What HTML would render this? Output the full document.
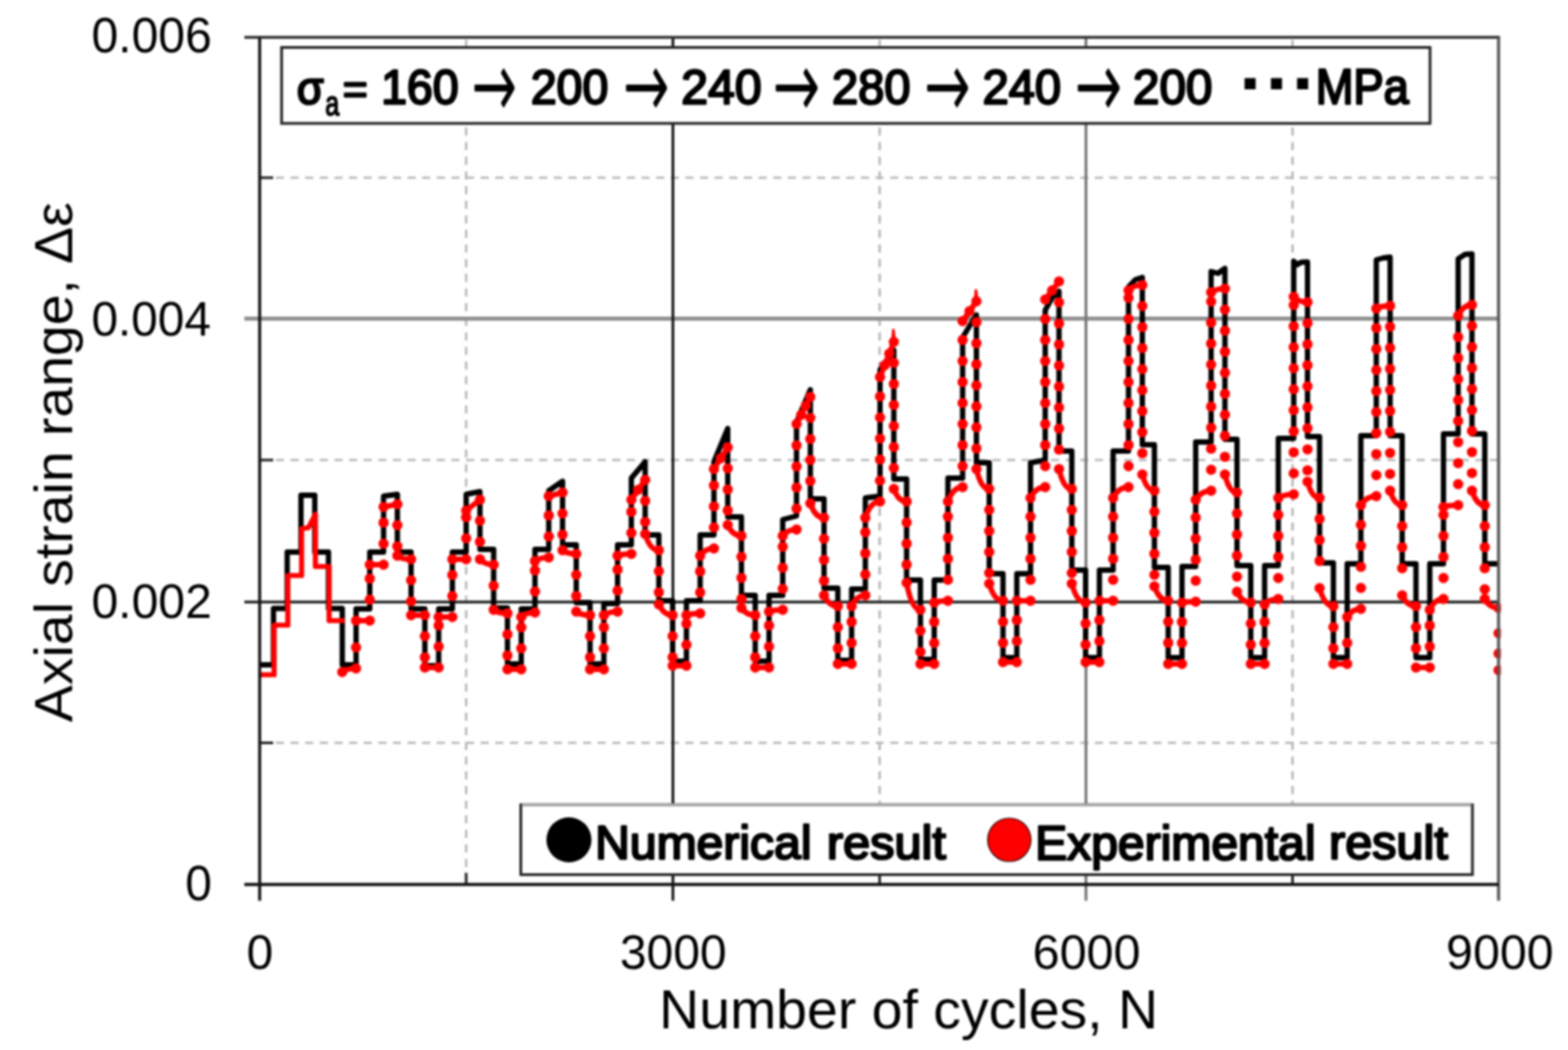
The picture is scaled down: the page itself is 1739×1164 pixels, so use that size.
<!DOCTYPE html>
<html lang="en"><head><meta charset="utf-8"><title>Axial strain range vs number of cycles</title>
<style>html,body{margin:0;padding:0;background:#fff}body{width:1739px;height:1164px;overflow:hidden}svg{display:block}text{white-space:pre}</style>
</head><body>
<svg width="1739" height="1164" viewBox="0 0 1739 1164">
<defs><filter id="soft" filterUnits="userSpaceOnUse" x="-10" y="-10" width="1759" height="1184" color-interpolation-filters="sRGB"><feGaussianBlur stdDeviation="0.95"/></filter></defs>
<rect x="-20" y="-20" width="1779" height="1204" fill="#fff"/>
<g filter="url(#soft)">
<rect x="-20" y="-20" width="1779" height="1204" fill="#fff"/>
<g stroke="#b8b8b8" stroke-width="2.7" stroke-dasharray="9 7.22" fill="none">
<line x1="306.0" y1="197" x2="1662.0" y2="197"/>
<line x1="306.0" y1="510" x2="1662.0" y2="510"/>
<line x1="306.0" y1="823.5" x2="1662.0" y2="823.5"/>
<line x1="517" y1="44.0" x2="517" y2="980.5"/>
<line x1="975.6" y1="44.0" x2="975.6" y2="980.5"/>
<line x1="1433.5" y1="44.0" x2="1433.5" y2="980.5"/>
</g>
<line x1="271.0" y1="353.3" x2="1662.0" y2="353.3" stroke="#8e8e8e" stroke-width="4.4"/>
<line x1="271.0" y1="667.4" x2="1662.0" y2="667.4" stroke="#2a2a2a" stroke-width="3.1"/>
<line x1="746.3" y1="41.4" x2="746.3" y2="998.5" stroke="#111" stroke-width="3"/>
<line x1="1204.4" y1="41.4" x2="1204.4" y2="998.5" stroke="#777" stroke-width="3.2"/>
<g stroke="#222" stroke-width="2.9">
<line x1="288.0" y1="197" x2="303.0" y2="197"/>
<line x1="288.0" y1="510" x2="303.0" y2="510"/>
<line x1="288.0" y1="823.5" x2="303.0" y2="823.5"/>
<line x1="517" y1="967.5" x2="517" y2="980.5"/>
<line x1="975.6" y1="967.5" x2="975.6" y2="980.5"/>
<line x1="1433.5" y1="967.5" x2="1433.5" y2="980.5"/>
</g>
<clipPath id="pc"><rect x="288.0" y="41.4" width="1376.5" height="939.1"/></clipPath>
<g clip-path="url(#pc)" fill="none">
<path d="M288.0,737.0 L303.3,737.0 L303.3,674.5 L318.5,674.5 L318.5,612.0 L333.8,612.0 L333.8,549.0 L349.1,549.0 L349.1,612.0 L364.3,612.0 L364.3,674.5 L379.6,674.5 L379.6,737.0 L394.9,737.0 L394.9,675.0 L410.1,675.0 L410.1,612.0 L425.4,612.0 L425.4,550.0 L440.7,548.0 L440.7,612.0 L455.9,612.0 L455.9,675.0 L471.2,675.0 L471.2,738.0 L486.5,738.0 L486.5,675.0 L501.7,675.0 L501.7,612.0 L517.0,612.0 L517.0,548.0 L532.3,545.0 L532.3,609.0 L547.5,609.0 L547.5,674.0 L562.8,674.0 L562.8,736.0 L578.1,736.0 L578.1,675.0 L593.3,675.0 L593.3,609.0 L608.6,609.0 L608.6,544.0 L623.9,533.5 L623.9,604.0 L639.1,604.0 L639.1,668.0 L654.4,668.0 L654.4,736.0 L669.7,736.0 L669.7,669.0 L684.9,669.0 L684.9,604.0 L700.2,604.0 L700.2,530.0 L715.5,512.0 L715.5,593.0 L730.7,593.0 L730.7,666.0 L746.0,666.0 L746.0,733.0 L761.3,733.0 L761.3,666.0 L776.5,666.0 L776.5,593.0 L791.8,593.0 L791.8,512.0 L807.1,475.0 L807.1,573.0 L822.3,573.0 L822.3,660.0 L837.6,660.0 L837.6,733.0 L852.9,733.0 L852.9,660.0 L868.1,660.0 L868.1,576.0 L883.4,572.0 L883.4,468.0 L898.7,432.0 L898.7,553.0 L913.9,553.0 L913.9,652.0 L929.2,652.0 L929.2,732.0 L944.5,732.0 L944.5,653.0 L959.7,653.0 L959.7,552.0 L976.0,550.0 L976.0,410.0 L991.3,388.0 L991.3,531.0 L1005.5,531.0 L1005.5,643.0 L1020.8,643.0 L1020.8,731.0 L1036.1,731.0 L1036.1,643.0 L1051.3,643.0 L1051.3,530.0 L1067.6,530.0 L1067.6,374.0 L1082.9,349.0 L1082.9,513.0 L1097.1,513.0 L1097.1,636.0 L1112.4,636.0 L1112.4,729.0 L1127.7,729.0 L1127.7,636.0 L1142.9,636.0 L1142.9,513.0 L1159.2,510.0 L1159.2,344.0 L1166.8,330.0 L1174.5,323.0 L1174.5,500.0 L1188.7,500.0 L1188.7,632.0 L1204.0,632.0 L1204.0,729.0 L1219.3,729.0 L1219.3,632.0 L1234.5,632.0 L1234.5,500.0 L1251.6,500.0 L1251.6,318.0 L1259.2,310.0 L1266.9,307.5 L1266.9,493.0 L1280.3,493.0 L1280.3,629.0 L1295.6,629.0 L1295.6,729.0 L1310.9,729.0 L1310.9,628.0 L1326.1,628.0 L1326.1,490.0 L1343.2,490.0 L1343.2,301.0 L1350.8,303.0 L1358.5,297.5 L1358.5,487.0 L1371.9,487.0 L1371.9,627.0 L1387.2,627.0 L1387.2,729.0 L1402.5,729.0 L1402.5,627.0 L1417.7,627.0 L1417.7,486.0 L1434.8,486.0 L1434.8,289.5 L1438.6,293.5 L1442.4,291.0 L1446.2,290.5 L1450.1,290.5 L1450.1,484.0 L1463.5,484.0 L1463.5,624.0 L1478.8,624.0 L1478.8,729.0 L1494.1,729.0 L1494.1,625.0 L1509.3,625.0 L1509.3,483.0 L1526.4,483.0 L1526.4,288.0 L1534.0,286.0 L1541.7,285.0 L1541.7,483.0 L1555.1,483.0 L1555.1,625.0 L1570.4,625.0 L1570.4,729.0 L1585.7,729.0 L1585.7,625.0 L1600.9,625.0 L1600.9,481.0 L1617.2,481.0 L1617.2,287.0 L1624.8,282.0 L1632.5,281.5 L1632.5,481.0 L1646.7,481.0 L1646.7,625.0 L1662.0,625.0" stroke="#000" stroke-width="5.9" stroke-linejoin="round"/>
<path d="M288.0,748.0 L304.0,748.0 L304.0,693.0 L319.2,693.0 L319.2,638.0 L334.5,638.0 L334.5,586.0 L342.1,585.0 L349.8,570.0 L349.8,628.0 L365.0,628.0 L365.0,688.0 L382.3,688.0" stroke="#f00" stroke-width="5.7" stroke-linejoin="round"/>
<path d="M989.8,379.0 l1,-13 l1.5,13 M1081.4,334.0 l1,-12 l1.5,12" stroke="#f00" stroke-width="3" stroke-linejoin="round"/>
<path d="M379.6,745.0 Q384.9,741.0 394.9,741.0 M394.9,688.0 Q400.2,688.0 410.1,688.0 M410.1,626.0 Q415.5,626.0 425.4,626.0 M425.4,562.0 L440.7,559.0 M440.7,616.0 Q446.0,620.0 455.9,620.0 M455.9,682.0 Q461.3,682.0 471.2,682.0 M471.2,740.0 Q476.5,740.0 486.5,740.0 M486.5,684.0 Q491.8,684.0 501.7,684.0 M501.7,620.0 Q507.1,620.0 517.0,620.0 M517.0,566.0 L532.3,554.0 M532.3,620.0 Q537.6,626.0 547.5,626.0 M547.5,676.0 Q552.9,680.0 562.8,680.0 M562.8,742.0 Q568.1,742.0 578.1,742.0 M578.1,684.0 Q583.4,679.0 593.3,679.0 M593.3,622.0 Q598.7,618.0 608.6,618.0 M608.6,550.0 L623.9,546.0 M623.9,610.0 Q629.2,614.0 639.1,614.0 M639.1,678.0 Q644.5,682.0 654.4,682.0 M654.4,742.0 Q659.7,742.0 669.7,742.0 M669.7,682.0 Q675.0,678.0 684.9,678.0 M684.9,616.0 Q690.3,614.0 700.2,614.0 M700.2,554.0 L715.5,532.0 M715.5,592.0 Q720.8,610.0 730.7,610.0 M730.7,670.0 Q736.1,682.0 746.0,682.0 M746.0,738.0 Q751.3,738.0 761.3,738.0 M761.3,682.0 Q766.6,680.0 776.5,680.0 M776.5,616.0 Q781.9,608.0 791.8,608.0 M791.8,520.0 L807.1,496.0 M807.1,582.0 Q812.4,594.0 822.3,594.0 M822.3,674.0 Q827.7,682.0 837.6,682.0 M837.6,740.0 Q842.9,740.0 852.9,740.0 M852.9,678.0 Q858.2,676.0 868.1,676.0 M868.1,594.0 Q873.5,587.0 883.4,587.0 M883.4,470.0 L898.7,440.0 M898.7,558.0 Q904.0,574.0 913.9,574.0 M913.9,660.0 Q919.3,672.0 929.2,672.0 M929.2,736.0 Q934.5,736.0 944.5,736.0 M944.5,672.0 Q949.8,660.0 959.7,660.0 M959.7,574.0 Q965.4,556.0 976.0,556.0 M976.0,418.0 L991.3,379.0 M991.3,542.0 Q996.3,556.0 1005.5,556.0 M1005.5,646.0 Q1010.9,676.0 1020.8,676.0 M1020.8,736.0 Q1026.1,736.0 1036.1,736.0 M1036.1,668.0 Q1041.4,666.0 1051.3,666.0 M1051.3,556.0 Q1057.0,540.0 1067.6,540.0 M1067.6,356.0 L1082.9,334.0 M1082.9,520.0 Q1087.9,542.0 1097.1,542.0 M1097.1,647.0 Q1102.5,666.0 1112.4,666.0 M1112.4,734.0 Q1117.7,734.0 1127.7,734.0 M1127.7,666.0 Q1133.0,666.0 1142.9,666.0 M1142.9,552.0 Q1148.6,540.0 1159.2,540.0 M1159.2,332.0 L1174.5,312.0 M1174.5,520.0 Q1179.5,542.0 1188.7,542.0 M1188.7,647.0 Q1194.1,668.0 1204.0,668.0 M1204.0,734.0 Q1209.3,734.0 1219.3,734.0 M1219.3,666.0 Q1224.6,666.0 1234.5,666.0 M1234.5,552.0 Q1240.5,540.0 1251.6,540.0 M1251.6,322.0 Q1256.9,316.0 1266.9,316.0 M1266.9,526.0 Q1271.6,544.0 1280.3,544.0 M1280.3,650.0 Q1285.7,666.0 1295.6,666.0 M1295.6,736.0 Q1300.9,736.0 1310.9,736.0 M1310.9,668.0 Q1316.2,667.0 1326.1,667.0 M1326.1,554.0 Q1332.1,544.0 1343.2,544.0 M1343.2,324.0 Q1348.5,320.0 1358.5,320.0 M1358.5,526.0 Q1363.2,546.0 1371.9,546.0 M1371.9,656.0 Q1377.3,668.0 1387.2,668.0 M1387.2,736.0 Q1392.5,736.0 1402.5,736.0 M1402.5,670.0 Q1407.8,664.0 1417.7,664.0 M1417.7,552.0 Q1423.7,548.0 1434.8,548.0 M1434.8,329.0 Q1440.1,335.0 1450.1,335.0 M1450.1,534.0 Q1454.8,552.0 1463.5,552.0 M1463.5,652.0 Q1468.9,672.0 1478.8,672.0 M1478.8,736.0 Q1484.1,736.0 1494.1,736.0 M1494.1,684.0 Q1499.4,675.0 1509.3,675.0 M1509.3,560.0 Q1515.3,550.0 1526.4,550.0 M1526.4,342.0 Q1531.7,339.0 1541.7,339.0 M1541.7,544.0 Q1546.4,560.0 1555.1,560.0 M1555.1,660.0 Q1560.5,672.0 1570.4,672.0 M1570.4,740.0 Q1575.7,740.0 1585.7,740.0 M1585.7,676.0 Q1591.0,664.0 1600.9,664.0 M1600.9,562.0 Q1606.6,560.0 1617.2,560.0 M1617.2,350.0 Q1622.5,338.0 1632.5,338.0 M1632.5,544.0 Q1637.5,560.0 1646.7,560.0 M1646.7,664.0 Q1652.1,674.0 1662.0,674.0" stroke="#f00" stroke-width="6" stroke-linecap="round"/>
<path d="M379.6,745.0h0 M394.9,741.0h0 M394.9,717.7h0 M394.9,688.0h0 M410.1,688.0h0 M410.1,664.7h0 M410.1,641.4h0 M410.1,626.0h0 M425.4,626.0h0 M425.4,602.7h0 M425.4,579.4h0 M425.4,562.0h0 M440.7,559.0h0 M440.7,582.3h0 M440.7,605.6h0 M440.7,616.0h0 M455.9,620.0h0 M455.9,643.3h0 M455.9,666.6h0 M455.9,682.0h0 M471.2,682.0h0 M471.2,705.3h0 M471.2,728.6h0 M471.2,740.0h0 M486.5,740.0h0 M486.5,716.7h0 M486.5,693.4h0 M486.5,684.0h0 M501.7,684.0h0 M501.7,660.7h0 M501.7,637.4h0 M501.7,620.0h0 M517.0,620.0h0 M517.0,596.7h0 M517.0,573.4h0 M517.0,566.0h0 M532.3,554.0h0 M532.3,577.3h0 M532.3,600.6h0 M532.3,620.0h0 M547.5,626.0h0 M547.5,649.3h0 M547.5,676.0h0 M562.8,680.0h0 M562.8,703.3h0 M562.8,726.6h0 M562.8,742.0h0 M578.1,742.0h0 M578.1,718.7h0 M578.1,695.4h0 M578.1,684.0h0 M593.3,679.0h0 M593.3,655.7h0 M593.3,632.4h0 M593.3,622.0h0 M608.6,618.0h0 M608.6,594.7h0 M608.6,571.4h0 M608.6,550.0h0 M623.9,546.0h0 M623.9,569.3h0 M623.9,592.6h0 M623.9,610.0h0 M639.1,614.0h0 M639.1,637.3h0 M639.1,660.6h0 M639.1,678.0h0 M654.4,682.0h0 M654.4,705.3h0 M654.4,728.6h0 M654.4,742.0h0 M669.7,742.0h0 M669.7,718.7h0 M669.7,695.4h0 M669.7,682.0h0 M684.9,678.0h0 M684.9,654.7h0 M684.9,631.4h0 M684.9,616.0h0 M700.2,614.0h0 M700.2,590.7h0 M700.2,567.4h0 M700.2,554.0h0 M715.5,532.0h0 M707.8,543.0h0 M715.5,555.3h0 M715.5,578.6h0 M715.5,592.0h0 M730.7,610.0h0 M730.7,633.3h0 M730.7,656.6h0 M730.7,670.0h0 M746.0,682.0h0 M746.0,705.3h0 M746.0,728.6h0 M746.0,738.0h0 M761.3,738.0h0 M761.3,714.7h0 M761.3,691.4h0 M761.3,682.0h0 M776.5,680.0h0 M776.5,656.7h0 M776.5,633.4h0 M776.5,616.0h0 M791.8,608.0h0 M791.8,584.7h0 M791.8,561.4h0 M791.8,538.1h0 M791.8,520.0h0 M807.1,496.0h0 M799.4,508.0h0 M807.1,519.3h0 M807.1,542.6h0 M807.1,565.9h0 M807.1,582.0h0 M822.3,594.0h0 M822.3,617.3h0 M822.3,640.6h0 M822.3,663.9h0 M822.3,674.0h0 M837.6,682.0h0 M837.6,705.3h0 M837.6,728.6h0 M837.6,740.0h0 M852.9,740.0h0 M852.9,716.7h0 M852.9,693.4h0 M852.9,678.0h0 M868.1,676.0h0 M868.1,652.7h0 M868.1,629.4h0 M868.1,606.1h0 M868.1,594.0h0 M883.4,587.0h0 M883.4,563.7h0 M883.4,540.4h0 M883.4,517.1h0 M883.4,493.8h0 M883.4,470.0h0 M898.7,440.0h0 M888.5,460.0h0 M893.6,450.0h0 M898.7,463.3h0 M898.7,486.6h0 M898.7,509.9h0 M898.7,533.2h0 M898.7,558.0h0 M913.9,574.0h0 M913.9,597.3h0 M913.9,620.6h0 M913.9,643.9h0 M913.9,660.0h0 M929.2,672.0h0 M929.2,695.3h0 M929.2,718.6h0 M929.2,736.0h0 M944.5,736.0h0 M944.5,712.7h0 M944.5,689.4h0 M944.5,672.0h0 M959.7,660.0h0 M959.7,636.7h0 M959.7,613.4h0 M959.7,590.1h0 M959.7,574.0h0 M976.0,556.0h0 M976.0,532.7h0 M976.0,509.4h0 M976.0,486.1h0 M976.0,462.8h0 M976.0,439.5h0 M976.0,418.0h0 M991.3,379.0h0 M981.1,405.0h0 M986.2,392.0h0 M991.3,402.3h0 M991.3,425.6h0 M991.3,448.9h0 M991.3,472.2h0 M991.3,495.5h0 M991.3,518.8h0 M991.3,542.0h0 M1005.5,556.0h0 M1005.5,579.3h0 M1005.5,602.6h0 M1005.5,625.9h0 M1005.5,646.0h0 M1020.8,676.0h0 M1020.8,699.3h0 M1020.8,722.6h0 M1020.8,736.0h0 M1036.1,736.0h0 M1036.1,712.7h0 M1036.1,689.4h0 M1036.1,668.0h0 M1051.3,666.0h0 M1051.3,642.7h0 M1051.3,619.4h0 M1051.3,596.1h0 M1051.3,572.8h0 M1051.3,556.0h0 M1067.6,540.0h0 M1067.6,516.7h0 M1067.6,493.4h0 M1067.6,470.1h0 M1067.6,446.8h0 M1067.6,423.5h0 M1067.6,400.2h0 M1067.6,376.9h0 M1067.6,356.0h0 M1082.9,334.0h0 M1075.2,345.0h0 M1082.9,357.3h0 M1082.9,380.6h0 M1082.9,403.9h0 M1082.9,427.2h0 M1082.9,450.5h0 M1082.9,473.8h0 M1082.9,497.1h0 M1082.9,520.0h0 M1097.1,542.0h0 M1097.1,565.3h0 M1097.1,588.6h0 M1097.1,611.9h0 M1097.1,635.2h0 M1097.1,647.0h0 M1112.4,666.0h0 M1112.4,689.3h0 M1112.4,712.6h0 M1112.4,734.0h0 M1127.7,734.0h0 M1127.7,710.7h0 M1127.7,687.4h0 M1127.7,666.0h0 M1142.9,666.0h0 M1142.9,642.7h0 M1142.9,619.4h0 M1142.9,596.1h0 M1142.9,572.8h0 M1142.9,552.0h0 M1159.2,540.0h0 M1159.2,516.7h0 M1159.2,493.4h0 M1159.2,470.1h0 M1159.2,446.8h0 M1159.2,423.5h0 M1159.2,400.2h0 M1159.2,376.9h0 M1159.2,353.6h0 M1159.2,332.0h0 M1174.5,312.0h0 M1166.8,322.0h0 M1174.5,335.3h0 M1174.5,358.6h0 M1174.5,381.9h0 M1174.5,405.2h0 M1174.5,428.5h0 M1174.5,451.8h0 M1174.5,475.1h0 M1174.5,498.4h0 M1174.5,520.0h0 M1188.7,542.0h0 M1188.7,565.3h0 M1188.7,588.6h0 M1188.7,611.9h0 M1188.7,635.2h0 M1188.7,647.0h0 M1204.0,668.0h0 M1204.0,691.3h0 M1204.0,714.6h0 M1204.0,734.0h0 M1219.3,734.0h0 M1219.3,710.7h0 M1219.3,687.4h0 M1219.3,666.0h0 M1234.5,666.0h0 M1234.5,642.7h0 M1234.5,619.4h0 M1234.5,596.1h0 M1234.5,572.8h0 M1234.5,552.0h0 M1251.6,540.0h0 M1251.6,516.7h0 M1251.6,493.4h0 M1251.6,470.1h0 M1251.6,446.8h0 M1251.6,423.5h0 M1251.6,400.2h0 M1251.6,376.9h0 M1251.6,353.6h0 M1251.6,330.3h0 M1251.6,322.0h0 M1266.9,316.0h0 M1266.9,339.3h0 M1266.9,362.6h0 M1266.9,385.9h0 M1266.9,409.2h0 M1266.9,432.5h0 M1266.9,455.8h0 M1266.9,479.1h0 M1266.9,502.4h0 M1266.9,526.0h0 M1280.3,544.0h0 M1280.3,567.3h0 M1280.3,590.6h0 M1280.3,613.9h0 M1280.3,637.2h0 M1280.3,650.0h0 M1295.6,666.0h0 M1295.6,689.3h0 M1295.6,712.6h0 M1295.6,736.0h0 M1310.9,736.0h0 M1310.9,712.7h0 M1310.9,689.4h0 M1310.9,668.0h0 M1326.1,667.0h0 M1326.1,643.7h0 M1326.1,620.4h0 M1326.1,597.1h0 M1326.1,573.8h0 M1326.1,554.0h0 M1343.2,544.0h0 M1343.2,520.7h0 M1343.2,497.4h0 M1343.2,474.1h0 M1343.2,450.8h0 M1343.2,427.5h0 M1343.2,404.2h0 M1343.2,380.9h0 M1343.2,357.6h0 M1343.2,334.3h0 M1343.2,324.0h0 M1358.5,320.0h0 M1358.5,343.3h0 M1358.5,366.6h0 M1358.5,389.9h0 M1358.5,413.2h0 M1358.5,436.5h0 M1358.5,459.8h0 M1358.5,483.1h0 M1358.5,506.4h0 M1358.5,526.0h0 M1371.9,546.0h0 M1371.9,569.3h0 M1371.9,592.6h0 M1371.9,615.9h0 M1371.9,639.2h0 M1371.9,656.0h0 M1387.2,668.0h0 M1387.2,691.3h0 M1387.2,714.6h0 M1387.2,736.0h0 M1402.5,736.0h0 M1402.5,712.7h0 M1402.5,689.4h0 M1402.5,670.0h0 M1417.7,664.0h0 M1417.7,640.7h0 M1417.7,617.4h0 M1417.7,594.1h0 M1417.7,570.8h0 M1417.7,552.0h0 M1434.8,548.0h0 M1434.8,524.7h0 M1434.8,501.4h0 M1434.8,478.1h0 M1434.8,454.8h0 M1434.8,431.5h0 M1434.8,408.2h0 M1434.8,384.9h0 M1434.8,361.6h0 M1434.8,338.3h0 M1434.8,329.0h0 M1450.1,335.0h0 M1450.1,358.3h0 M1450.1,381.6h0 M1450.1,404.9h0 M1450.1,428.2h0 M1450.1,451.5h0 M1450.1,474.8h0 M1450.1,498.1h0 M1450.1,521.4h0 M1450.1,534.0h0 M1463.5,552.0h0 M1463.5,575.3h0 M1463.5,598.6h0 M1463.5,621.9h0 M1463.5,652.0h0 M1478.8,672.0h0 M1478.8,695.3h0 M1478.8,718.6h0 M1478.8,736.0h0 M1494.1,736.0h0 M1494.1,712.7h0 M1494.1,684.0h0 M1509.3,675.0h0 M1509.3,651.7h0 M1509.3,628.4h0 M1509.3,605.1h0 M1509.3,581.8h0 M1509.3,560.0h0 M1526.4,550.0h0 M1526.4,526.7h0 M1526.4,503.4h0 M1526.4,480.1h0 M1526.4,456.8h0 M1526.4,433.5h0 M1526.4,410.2h0 M1526.4,386.9h0 M1526.4,363.6h0 M1526.4,342.0h0 M1541.7,339.0h0 M1541.7,362.3h0 M1541.7,385.6h0 M1541.7,408.9h0 M1541.7,432.2h0 M1541.7,455.5h0 M1541.7,478.8h0 M1541.7,502.1h0 M1541.7,525.4h0 M1541.7,544.0h0 M1555.1,560.0h0 M1555.1,583.3h0 M1555.1,606.6h0 M1555.1,629.9h0 M1555.1,660.0h0 M1570.4,672.0h0 M1570.4,695.3h0 M1570.4,718.6h0 M1570.4,740.0h0 M1585.7,740.0h0 M1585.7,716.7h0 M1585.7,693.4h0 M1585.7,676.0h0 M1600.9,664.0h0 M1600.9,640.7h0 M1600.9,617.4h0 M1600.9,594.1h0 M1600.9,570.8h0 M1600.9,562.0h0 M1617.2,560.0h0 M1617.2,536.7h0 M1617.2,513.4h0 M1617.2,490.1h0 M1617.2,466.8h0 M1617.2,443.5h0 M1617.2,420.2h0 M1617.2,396.9h0 M1617.2,373.6h0 M1617.2,350.0h0 M1632.5,338.0h0 M1632.5,361.3h0 M1632.5,384.6h0 M1632.5,407.9h0 M1632.5,431.2h0 M1632.5,454.5h0 M1632.5,477.8h0 M1632.5,501.1h0 M1632.5,524.4h0 M1632.5,544.0h0 M1646.7,560.0h0 M1646.7,583.3h0 M1646.7,606.6h0 M1646.7,629.9h0 M1646.7,653.2h0 M1646.7,664.0h0 M1662.0,674.0h0 M1662.0,702.0h0 M1662.0,724.5h0 M1662.0,743.0h0" stroke="#f00" stroke-width="11.4" stroke-linecap="round"/>
</g>
<line x1="271.0" y1="41.4" x2="1663.5" y2="41.4" stroke="#333" stroke-width="3.2"/>
<line x1="1662.0" y1="41.4" x2="1662.0" y2="998.5" stroke="#555" stroke-width="3.4"/>
<line x1="288.0" y1="41.4" x2="288.0" y2="998.5" stroke="#111" stroke-width="3.3"/>
<line x1="271.0" y1="980.5" x2="1662.0" y2="980.5" stroke="#111" stroke-width="3.3"/>
<rect x="312.3" y="52.6" width="1273.7" height="84.2" fill="#fff" stroke="#222" stroke-width="3"/>
<rect x="577.6" y="892.2" width="1055.4" height="77.4" fill="#fff" stroke="#222" stroke-width="3"/>
<line x1="579" y1="892.2" x2="1631.7" y2="892.2" stroke="#a8a8a8" stroke-width="3.6"/>
<circle cx="631" cy="931" r="25" fill="#000"/>
<circle cx="1119.4" cy="931" r="24" fill="#f00" stroke="#300" stroke-width="1.2"/>
<g fill="#000">
<text transform="translate(101.40,58.45) scale(0.9714,1)" font-family='"Liberation Sans", sans-serif' font-size="54.93" font-weight="normal">0.006</text>
<text transform="translate(101.41,371.96) scale(0.9762,1)" font-family='"Liberation Sans", sans-serif' font-size="54.23" font-weight="normal">0.004</text>
<text transform="translate(101.40,684.96) scale(0.9843,1)" font-family='"Liberation Sans", sans-serif' font-size="54.23" font-weight="normal">0.002</text>
<text transform="translate(205.41,998.45) scale(0.9660,1)" font-family='"Liberation Sans", sans-serif' font-size="54.93" font-weight="normal">0</text>
<text transform="translate(273.41,1073.96) scale(0.9785,1)" font-family='"Liberation Sans", sans-serif' font-size="54.23" font-weight="normal">0</text>
<text transform="translate(687.40,1073.96) scale(0.9825,1)" font-family='"Liberation Sans", sans-serif' font-size="54.23" font-weight="normal">3000</text>
<text transform="translate(1145.31,1073.96) scale(0.9917,1)" font-family='"Liberation Sans", sans-serif' font-size="54.23" font-weight="normal">6000</text>
<text transform="translate(1603.86,1073.96) scale(0.9871,1)" font-family='"Liberation Sans", sans-serif' font-size="54.23" font-weight="normal">9000</text>
<text transform="translate(731.08,1139.54) scale(0.9962,1)" font-family='"Liberation Sans", sans-serif' font-size="61.70" font-weight="normal">Number of cycles, N</text>
<text transform="translate(79.6,800.40) rotate(-90) scale(1.0399,1)" font-family='"Liberation Sans", sans-serif' font-size="59.0" font-weight="normal">Axial strain range, Δε</text>
<text transform="translate(659.98,951.73) scale(1.0252,1)" font-family='"Liberation Sans", sans-serif' font-size="52.03" font-weight="normal" stroke="#000" stroke-width="2.5" stroke-linejoin="round" style="vector-effect:non-scaling-stroke">Numerical</text>
<text transform="translate(917.01,951.73) scale(1.0385,1)" font-family='"Liberation Sans", sans-serif' font-size="52.03" font-weight="normal" stroke="#000" stroke-width="2.5" stroke-linejoin="round" style="vector-effect:non-scaling-stroke">result</text>
<text transform="translate(1147.99,952.58) scale(1.0021,1)" font-family='"Liberation Sans", sans-serif' font-size="53.19" font-weight="normal" stroke="#000" stroke-width="2.5" stroke-linejoin="round" style="vector-effect:non-scaling-stroke">Experimental</text>
<text transform="translate(1474.02,951.73) scale(1.0345,1)" font-family='"Liberation Sans", sans-serif' font-size="52.03" font-weight="normal" stroke="#000" stroke-width="2.5" stroke-linejoin="round" style="vector-effect:non-scaling-stroke">result</text>
<text transform="translate(329.32,115.23) scale(0.9305,1)" font-family='"Liberation Sans", sans-serif' font-size="51.85" font-weight="normal" stroke="#000" stroke-width="2.5" stroke-linejoin="round" style="vector-effect:non-scaling-stroke">σ</text>
<text transform="translate(360.63,128.37) scale(0.7303,1)" font-family='"Liberation Sans", sans-serif' font-size="38.18" font-weight="normal" stroke="#000" stroke-width="1.5" stroke-linejoin="round" style="vector-effect:non-scaling-stroke">a</text>
<text transform="translate(380.37,114.73) scale(1.0006,1)" font-family='"Liberation Sans", sans-serif' font-size="46.97" font-weight="normal" stroke="#000" stroke-width="2.5" stroke-linejoin="round" style="vector-effect:non-scaling-stroke">=</text>
<text transform="translate(422.64,115.21) scale(0.9502,1)" font-family='"Liberation Sans", sans-serif' font-size="54.23" font-weight="normal" stroke="#000" stroke-width="2.5" stroke-linejoin="round" style="vector-effect:non-scaling-stroke">160</text>
<text transform="translate(523.79,128.83) scale(0.5810,1)" font-family='"DejaVu Sans", sans-serif' font-size="100.24" font-weight="200" stroke="#000" stroke-width="2.4" stroke-linejoin="round" style="vector-effect:non-scaling-stroke">→</text>
<text transform="translate(588.67,115.21) scale(0.9499,1)" font-family='"Liberation Sans", sans-serif' font-size="54.23" font-weight="normal" stroke="#000" stroke-width="2.5" stroke-linejoin="round" style="vector-effect:non-scaling-stroke">200</text>
<text transform="translate(691.72,128.83) scale(0.5945,1)" font-family='"DejaVu Sans", sans-serif' font-size="100.24" font-weight="200" stroke="#000" stroke-width="2.4" stroke-linejoin="round" style="vector-effect:non-scaling-stroke">→</text>
<text transform="translate(755.58,115.21) scale(0.9848,1)" font-family='"Liberation Sans", sans-serif' font-size="54.23" font-weight="normal" stroke="#000" stroke-width="2.5" stroke-linejoin="round" style="vector-effect:non-scaling-stroke">240</text>
<text transform="translate(857.65,128.83) scale(0.6080,1)" font-family='"DejaVu Sans", sans-serif' font-size="100.24" font-weight="200" stroke="#000" stroke-width="2.4" stroke-linejoin="round" style="vector-effect:non-scaling-stroke">→</text>
<text transform="translate(922.64,115.21) scale(0.9615,1)" font-family='"Liberation Sans", sans-serif' font-size="54.23" font-weight="normal" stroke="#000" stroke-width="2.5" stroke-linejoin="round" style="vector-effect:non-scaling-stroke">280</text>
<text transform="translate(1025.72,128.83) scale(0.5945,1)" font-family='"DejaVu Sans", sans-serif' font-size="100.24" font-weight="200" stroke="#000" stroke-width="2.4" stroke-linejoin="round" style="vector-effect:non-scaling-stroke">→</text>
<text transform="translate(1089.64,115.21) scale(0.9615,1)" font-family='"Liberation Sans", sans-serif' font-size="54.23" font-weight="normal" stroke="#000" stroke-width="2.5" stroke-linejoin="round" style="vector-effect:non-scaling-stroke">240</text>
<text transform="translate(1192.65,128.83) scale(0.6080,1)" font-family='"DejaVu Sans", sans-serif' font-size="100.24" font-weight="200" stroke="#000" stroke-width="2.4" stroke-linejoin="round" style="vector-effect:non-scaling-stroke">→</text>
<text transform="translate(1256.61,115.21) scale(0.9732,1)" font-family='"Liberation Sans", sans-serif' font-size="54.23" font-weight="normal" stroke="#000" stroke-width="2.5" stroke-linejoin="round" style="vector-effect:non-scaling-stroke">200</text>
<text transform="translate(1374.24,121.17) scale(1.0515,1)" font-family='"Liberation Sans", sans-serif' font-size="83.33" font-weight="700">···</text>
<text transform="translate(1459.23,115.20) scale(0.9137,1)" font-family='"Liberation Sans", sans-serif' font-size="55.00" font-weight="normal" stroke="#000" stroke-width="2.5" stroke-linejoin="round" style="vector-effect:non-scaling-stroke">MPa</text>
</g>
</g>
</svg>
</body></html>
